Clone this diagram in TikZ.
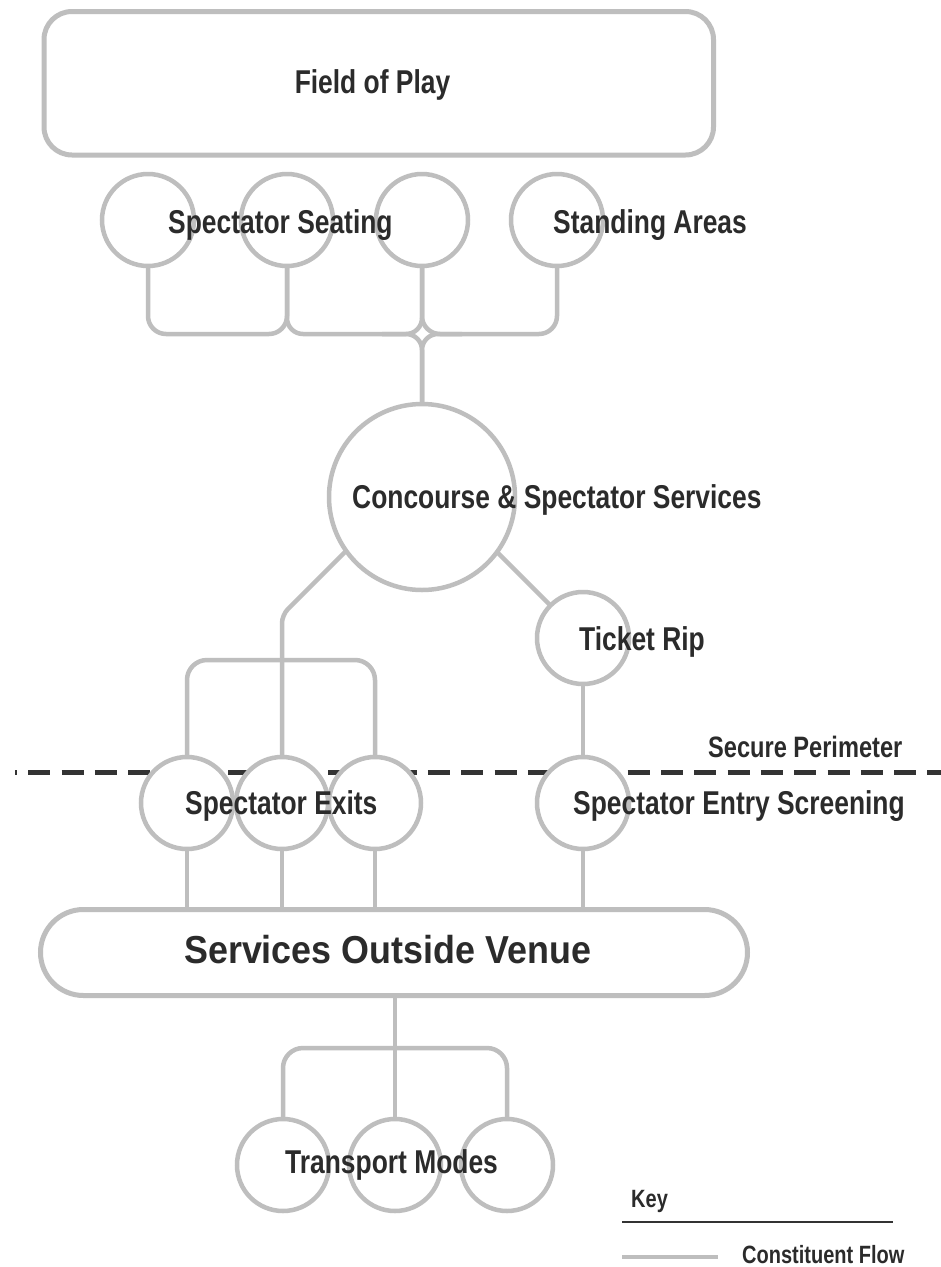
\documentclass[tikz,border=0pt]{standalone}
\usepackage{fontspec}
\newfontfamily\lblfont[FakeStretch=0.8]{Liberation Sans}
\newfontfamily\lblwidefont[FakeStretch=0.92]{Liberation Sans}
\usetikzlibrary{backgrounds}
\definecolor{flow}{HTML}{BEBEBE}
\definecolor{ink}{HTML}{2B2B2B}
\definecolor{fence}{HTML}{333333}
\tikzset{
  flowline/.style={draw=flow, line width=4.5pt},
  hub/.style={circle, draw=flow, line width=4.5pt, fill=white, minimum size=92pt, inner sep=0pt},
  bighub/.style={hub, minimum size=186pt},
  zone/.style={rectangle, draw=flow, line width=5pt, fill=white, inner sep=0pt},
  lbl/.style={text=ink, inner sep=0pt, anchor=base west, font=\lblfont\bfseries\fontsize{33}{36}\selectfont},
  smalllbl/.style={lbl, font=\lblfont\bfseries\fontsize{25}{28}\selectfont},
  midlbl/.style={lbl, font=\lblfont\bfseries\fontsize{29.5}{32}\selectfont},
  biglbl/.style={lbl, font=\lblwidefont\bfseries\fontsize{39}{42}\selectfont},
  perimeter/.style={draw=fence, line width=5pt, dash pattern=on 22pt off 11.3pt, dash phase=20pt},
  rule/.style={draw=fence, line width=1.8pt}
}
\begin{document}
\begin{tikzpicture}[x=1pt, y=-1pt]
\useasboundingbox (0,0) rectangle (941,1267);

% areas
\node[zone, rounded corners=28pt, minimum width=669.5pt, minimum height=143.5pt] (fop) at (378.75,83.25) {};
\node[zone, rounded corners=43pt, minimum width=707pt, minimum height=86pt] (sov) at (394,952.5) {};

% seating and standing
\node[hub] (s1) at (148,220) {};
\node[hub] (s2) at (287,220) {};
\node[hub] (s3) at (422,220) {};
\node[hub] (s4) at (557,220) {};

% concourse and ticket rip
\node[bighub] (cc) at (422,497) {};
\node[hub] (tk) at (583,638) {};

% exits and entry screening
\node[hub] (ex1) at (187,803) {};
\node[hub] (ex2) at (282,803) {};
\node[hub] (ex3) at (375,803) {};
\node[hub] (en) at (583,803) {};

% transport modes
\node[hub] (tm1) at (283,1165) {};
\node[hub] (tm2) at (395,1165) {};
\node[hub] (tm3) at (507,1165) {};

% junction points
\coordinate (bus) at (422,334);
\coordinate (xbar) at (282,660);
\coordinate (xbend) at (282,615);
\coordinate (ccL) at (392,505);
\coordinate (ccR) at (463,518);
\coordinate (tbar) at (395,1048);
\coordinate (perimL) at (15,772);
\coordinate (perimR) at (941,772);
\coordinate (keyL) at (622,1222);
\coordinate (keyR) at (893,1222);
\coordinate (sampleL) at (622,1257);
\coordinate (sampleR) at (718,1257);

\begin{scope}[on background layer]
  \fill[white] (0,0) rectangle (941,1267);
  % seating bus
  \draw[flowline, rounded corners=18pt] (s1.center) -- (s1.center |- bus) -- (s2.center |- bus) -- (s2.center);
  \draw[flowline, rounded corners=16pt] (s2.center) -- (s2.center |- bus) -- (bus) -- (s3.center);
  \draw[flowline, rounded corners=18pt] (s3.center) -- (bus) -- (s4.center |- bus) -- (s4.center);
  \draw[flowline, rounded corners=16pt] (cc.center) -- (bus) -- ++(-40,0);
  \draw[flowline, rounded corners=16pt] (cc.center) -- (bus) -- ++(40,0);
  % concourse to exits and ticket rip
  \draw[flowline, rounded corners=8pt] (ex2.center) -- (xbend) -- (ccL);
  \draw[flowline, rounded corners=20pt] (ex1.center) -- (ex1.center |- xbar) -- (ex3.center |- xbar) -- (ex3.center);
  \draw[flowline] (tk.center) -- (ccR);
  \draw[flowline] (tk.center) -- (en.center);
  % exits and entry to outside services
  \draw[flowline] (ex1.center) -- (ex1.center |- sov.center);
  \draw[flowline] (ex2.center) -- (ex2.center |- sov.center);
  \draw[flowline] (ex3.center) -- (ex3.center |- sov.center);
  \draw[flowline] (en.center) -- (en.center |- sov.center);
  % outside services to transport
  \draw[flowline] (tm2.center) -- (tm2.center |- sov.center);
  \draw[flowline, rounded corners=20pt] (tm1.center) -- (tm1.center |- tbar) -- (tm3.center |- tbar) -- (tm3.center);
  % secure perimeter
  \draw[perimeter] (perimL) -- (perimR);
\end{scope}

% labels
\node[lbl, anchor=base] (tfop) at (372.5,93) {Field of Play};
\node[lbl] (tseat) at (168,233) {Spectator Seating};
\node[lbl] (tstand) at (553,233) {Standing Areas};
\node[lbl] (tcc) at (352,508) {Concourse \& Spectator Services};
\node[lbl] (ttk) at (579,650) {Ticket Rip};
\node[midlbl] (tperim) at (708,757) {Secure Perimeter};
\node[lbl] (tex) at (185,814) {Spectator Exits};
\node[lbl] (ten) at (573,814) {Spectator Entry Screening};
\node[biglbl] (tsov) at (184,963) {Services Outside Venue};
\node[lbl] (ttm) at (285,1173) {Transport Modes};

% key
\node[smalllbl] (tkey) at (631,1207) {Key};
\draw[rule] (keyL) -- (keyR);
\draw[flowline] (sampleL) -- (sampleR);
\node[smalllbl] (tflow) at (742,1263) {Constituent Flow};
\end{tikzpicture}
\end{document}
